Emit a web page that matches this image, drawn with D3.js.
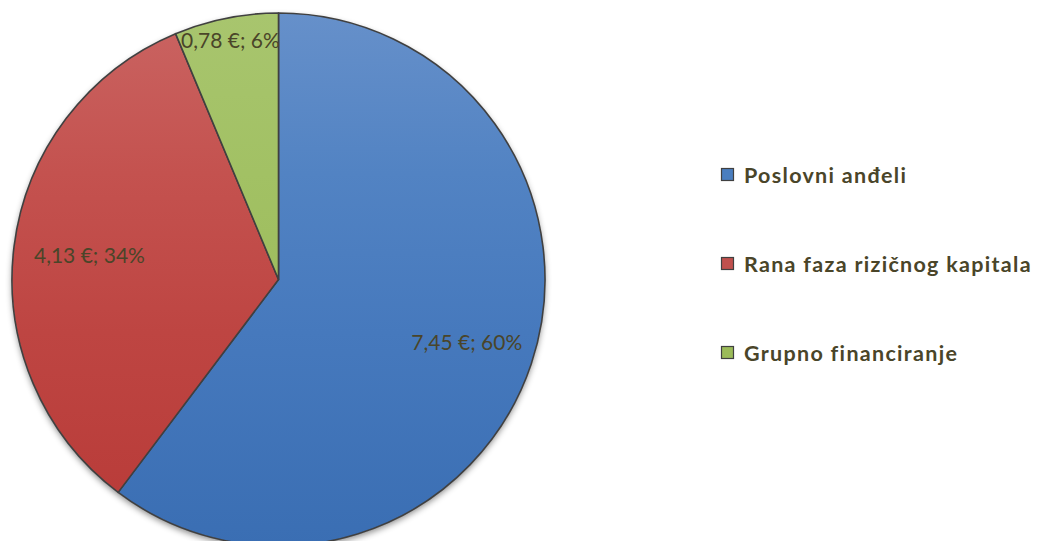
<!DOCTYPE html>
<html>
<head>
<meta charset="utf-8">
<script src="https://cdn.jsdelivr.net/npm/d3@7"></script>
<style>
  body { margin: 0; background: #fff; }
  svg { display: block; }
</style>
</head>
<body>
<svg width="1038" height="541"></svg>
<script>
// pie data: values in EUR (bn)
const categories = ["Poslovni anđeli", "Rana faza rizičnog kapitala", "Grupno financiranje"];
const values = [7.45, 4.13, 0.78];
const percents = [60, 34, 6];

const svg = d3.select("svg");
const cx = 278.5, cy = 279.5, radius = 266.5;
const textColor = "#4a4529";

// gradient colours per slice (stops from top to bottom)
const gradOffsets = ["0%", "30%", "60%", "100%"];
const gradStops = [
  ["#6690ca", "#5283c3", "#4679bd", "#3a6eb3"],
  ["#ca6462", "#c4524f", "#be4542", "#b83a37"],
  ["#a8c56e", "#a2c164", "#9dbc5c", "#9bbb59"]
];
const squareColors = ["#4a7ebf", "#c0504d", "#9bbb59"];

const defs = svg.append("defs");
gradStops.forEach(function(s, i) {
  // coordinates are in the pie group's space (centred on 0,0)
  const g = defs.append("linearGradient")
    .attr("id", "grad" + i)
    .attr("gradientUnits", "userSpaceOnUse")
    .attr("x1", 0).attr("y1", -radius)
    .attr("x2", 0).attr("y2", radius);
  s.forEach(function(c, j) {
    g.append("stop").attr("offset", gradOffsets[j]).attr("stop-color", c);
  });
});

const shadow = defs.append("filter").attr("id", "shadow")
  .attr("x", "-10%").attr("y", "-10%").attr("width", "120%").attr("height", "120%");
shadow.append("feDropShadow")
  .attr("dx", 0).attr("dy", 3).attr("stdDeviation", 3)
  .attr("flood-color", "#000").attr("flood-opacity", 0.45);

const pie = d3.pie().sort(null).value(function(d) { return d; });
const arcs = pie(values);
const arc = d3.arc().innerRadius(0).outerRadius(radius);

const g = svg.append("g").attr("transform", "translate(" + cx + "," + cy + ")");

g.append("circle").attr("r", radius).attr("fill", "#fff").attr("filter", "url(#shadow)");

g.selectAll("path.slice")
  .data(arcs)
  .join("path")
  .attr("class", "slice")
  .attr("d", arc)
  .attr("fill", function(d, i) { return "url(#grad" + i + ")"; })
  .attr("stroke", "#404040")
  .attr("stroke-width", 1.6)
  .attr("stroke-linejoin", "round");

// label distance from centre as fraction of radius (Excel best fit)
const labelFrac = [0.745, 0.715, 0.915];
const fmt = function(v) { return v.toFixed(2).replace(".", ","); };

g.selectAll("text.lbl")
  .data(arcs)
  .join("text")
  .attr("class", "lbl")
  .attr("transform", function(d, i) {
    const a = (d.startAngle + d.endAngle) / 2;
    const r = radius * labelFrac[i];
    return "translate(" + (r * Math.sin(a)) + "," + (-r * Math.cos(a)) + ")";
  })
  .attr("text-anchor", "middle")
  .attr("dy", "0.35em")
  .attr("font-family", "Lato, 'Open Sans', sans-serif")
  .attr("font-size", 21)
  .attr("fill", textColor)
  .text(function(d, i) { return fmt(values[i]) + " €; " + percents[i] + "%"; });

// legend
const legendY = d3.scalePoint().domain(categories).range([175, 353]);
const legend = svg.append("g");
legend.selectAll("rect")
  .data(categories)
  .join("rect")
  .attr("x", 721.5)
  .attr("y", function(d) { return legendY(d) - 6.5; })
  .attr("width", 12).attr("height", 12)
  .attr("fill", function(d, i) { return squareColors[i]; })
  .attr("stroke", "#404040")
  .attr("stroke-width", 1.2);
legend.selectAll("text")
  .data(categories)
  .join("text")
  .attr("x", 744)
  .attr("y", function(d) { return legendY(d); })
  .attr("dy", "0.36em")
  .attr("font-family", "Lato, 'Open Sans', sans-serif")
  .attr("font-weight", "bold")
  .attr("font-size", 21.5)
  .attr("letter-spacing", 1.3)
  .attr("fill", textColor)
  .text(function(d) { return d; });
</script>
</body>
</html>
